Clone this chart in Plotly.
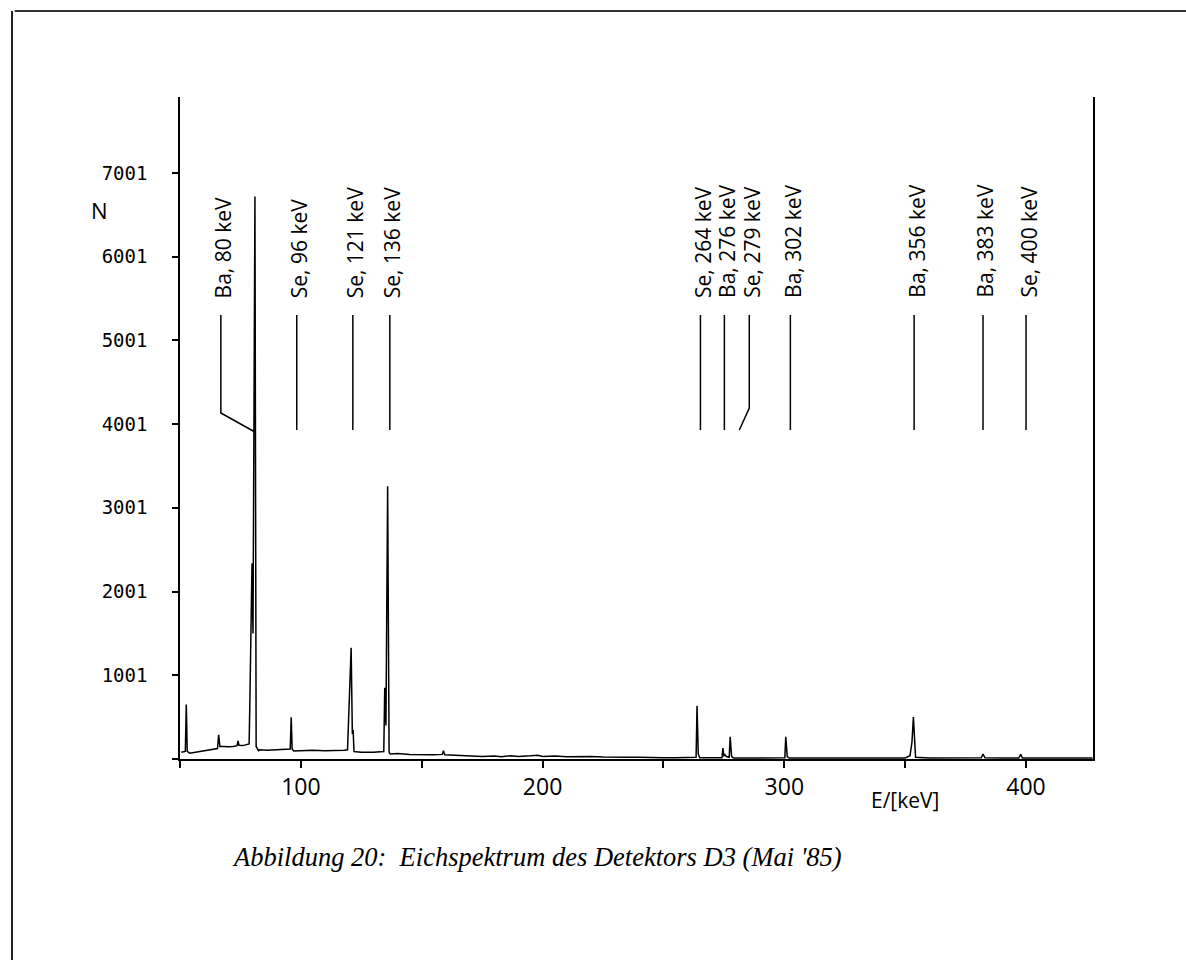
import plotly.graph_objects as go

# ---- spectrum (energy in keV, counts N) ----
energy = [50.5, 51.5, 52.2, 52.6, 53.0, 54, 56, 60, 64, 65.5, 66.0, 66.5, 68, 70, 72, 73.6, 74.0, 74.4,
          76, 77.5, 78.6, 78.9, 79.8, 80.2, 81.0, 81.5, 82.5,
          83, 86, 90, 94, 95.6, 96.0, 96.4, 97, 100, 105, 110, 115, 118,
          119.3, 119.8, 120.8, 121.3, 121.6, 122, 125, 130, 133.5,
          134.3, 134.7, 135.2, 135.9, 136.5, 137,
          140, 145, 150, 155, 158.5, 159, 159.5, 165, 170,
          175, 180, 183, 187, 190, 195, 198, 200, 205, 210, 215, 220, 225, 230, 235, 240, 245, 250, 255, 260,
          263.5, 263.9, 264.4, 265, 270, 274.2, 274.6, 275.0, 275.5, 276, 277.2, 277.6, 278.2, 279,
          285, 290, 295, 300.2, 300.6, 301.2, 302, 310, 320, 330, 340, 350,
          352, 352.8, 353.4, 353.8, 354.3, 360, 370, 378, 381.5, 382.2, 383, 390, 397, 397.8, 398.5,
          410, 420, 427.5]
counts = [80, 85, 90, 650, 90, 70, 80, 100, 115, 125, 290, 150, 150, 145, 150, 160, 215, 165,
          160, 170, 180, 680, 2340, 1500, 6720, 150, 100,
          110, 105, 110, 115, 120, 500, 120, 95, 100, 105, 100, 100, 105,
          110, 620, 1330, 300, 350, 90, 80, 80, 85,
          90, 850, 400, 3260, 80, 60,
          65, 55, 50, 50, 55, 100, 50, 40, 35,
          30, 35, 28, 40, 30, 38, 45, 30, 35, 28, 32, 30, 25, 28, 22, 20, 22, 15, 15, 15,
          20, 635, 60, 15, 15, 15, 130, 40, 50, 30, 20, 265, 30, 12,
          12, 12, 12, 15, 265, 30, 12, 12, 12, 12, 12, 12,
          40, 200, 500, 200, 20, 12, 12, 12, 15, 60, 15, 12, 12, 55, 12,
          12, 12, 12]

# ---- peak labels ----
label_text = ["Ba, 80 keV", "Se, 96 keV", "Se, 121 keV", "Se, 136 keV",
              "Se, 264 keV", "Ba, 276 keV", "Se, 279 keV", "Ba, 302 keV",
              "Ba, 356 keV", "Ba, 383 keV", "Se, 400 keV"]
label_x = [66.9, 98.3, 121.5, 136.8, 265.3, 275.2, 285.5, 302.5, 353.7, 382.2, 400.0]
# where the label line ends at the bottom (some bend towards the peak)
label_end_x = [81.0, 98.3, 121.5, 136.8, 265.3, 275.2, 281.4, 302.5, 353.7, 382.2, 400.0]

y_tickvals = [1, 1001, 2001, 3001, 4001, 5001, 6001, 7001]
y_ticktext = ["", "1001", "2001", "3001", "4001", "5001", "6001", "7001"]
x_tickvals = [50, 100, 150, 200, 250, 300, 350, 400]
x_ticktext = ["", "100", "", "200", "", "300", "", "400"]

fig = go.Figure()
fig.add_trace(go.Scatter(x=energy, y=counts, mode="lines",
                         line=dict(color="black", width=1.5), hoverinfo="skip", showlegend=False))

line_top, line_bottom = 5305, 3931
for txt, lx, ex in zip(label_text, label_x, label_end_x):
    if ex == lx:
        fig.add_shape(type="line", x0=lx, x1=lx, y0=line_top, y1=line_bottom,
                      line=dict(color="black", width=1.5))
    else:
        kink = 4134 if ex > lx else 4194
        ey = 3907 if ex > lx else line_bottom
        fig.add_shape(type="path",
                      path=f"M {lx},{line_top} L {lx},{kink} L {ex},{ey}",
                      line=dict(color="black", width=1.5))
    fig.add_annotation(x=lx, y=5484, text=txt, textangle=-90, showarrow=False,
                       xanchor="center", yanchor="bottom", xshift=2,
                       font=dict(family="Open Sans", size=21, color="black"))

# axis annotations
fig.add_annotation(xref="paper", yref="paper", x=-0.0887, y=0.829, text="N", showarrow=False,
                   xanchor="center", yanchor="middle",
                   font=dict(family="Open Sans", size=22, color="black"))
fig.add_annotation(xref="paper", yref="paper", x=0.794, y=-0.062, text="E/[keV]", showarrow=False,
                   xanchor="center", yanchor="middle",
                   font=dict(family="Open Sans", size=21, color="black"))
fig.add_annotation(xref="paper", yref="paper", x=0.391, y=-0.148,
                   text="Abbildung 20:  Eichspektrum des Detektors D3 (Mai '85)", showarrow=False,
                   xanchor="center", yanchor="middle",
                   font=dict(family="Liberation Serif", size=26.5, color="black", style="italic"))

# page frame (top and left edge of the scanned page)
fig.add_shape(type="line", xref="paper", yref="paper", x0=-0.181, x1=1.11, y0=1.13, y1=1.13,
              line=dict(color="#333", width=2))
fig.add_shape(type="line", xref="paper", yref="paper", x0=-0.184, x1=-0.184, y0=1.13, y1=-0.31,
              line=dict(color="#222", width=2))

fig.update_xaxes(range=[50, 427.7], tickvals=x_tickvals, ticktext=x_ticktext,
                 showline=True, linecolor="black", linewidth=1.5, ticks="outside", ticklen=7,
                 tickwidth=1.5, tickcolor="black", showgrid=False, zeroline=False,
                 ticklabelstandoff=0,
                 tickfont=dict(family="Open Sans", size=23, color="black"))
fig.update_yaxes(range=[0, 7910], tickvals=y_tickvals, ticktext=y_ticktext,
                 showline=True, linecolor="black", linewidth=1.5, mirror=True, ticks="outside", ticklen=6,
                 tickwidth=1.5, tickcolor="black", showgrid=False, zeroline=False,
                 ticklabelstandoff=21,
                 tickfont=dict(family="DejaVu Sans Mono", size=19, color="black"))

fig.update_layout(width=1186, height=960, margin=dict(l=180, r=93, t=97, b=201),
                  plot_bgcolor="white", paper_bgcolor="white", showlegend=False)

fig.write_html("out.html")
